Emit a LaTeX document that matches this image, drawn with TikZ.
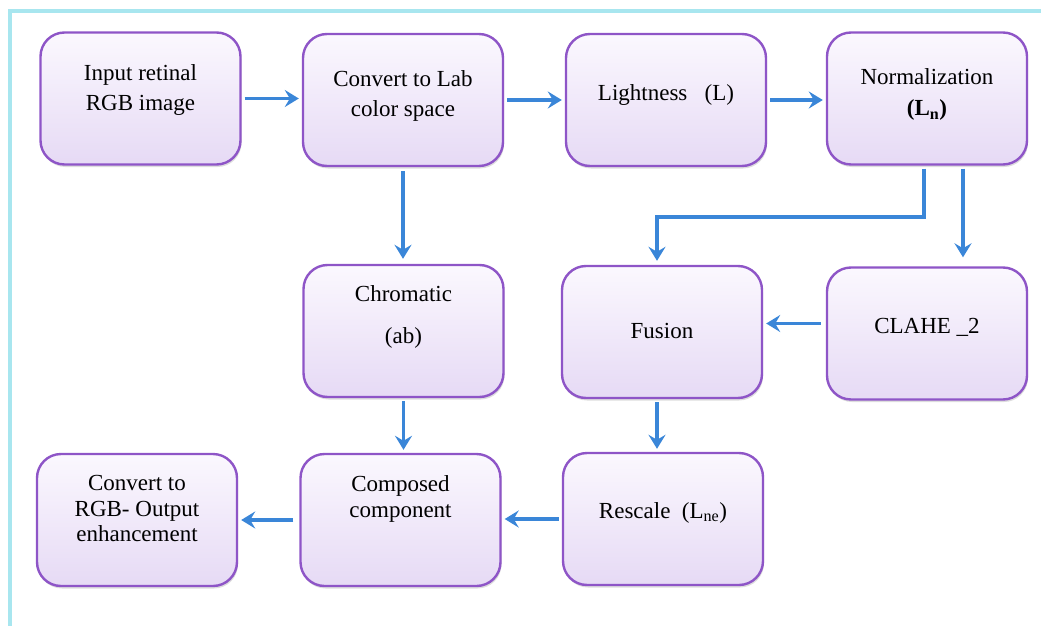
\documentclass[tikz,border=0pt]{standalone}
\usepackage{fontspec}
\setmainfont{Liberation Serif}
\usetikzlibrary{arrows.meta,shadows,calc}

\definecolor{frameline}{HTML}{A8E6EF}
\definecolor{boxedge}{HTML}{8E55C7}
\definecolor{boxtop}{HTML}{FBF8FE}
\definecolor{boxbottom}{HTML}{E6DAF5}
\definecolor{flow}{HTML}{3A86D8}

\tikzset{
  stepbox/.style={
    rounded corners=24pt, minimum width=200pt, minimum height=132pt,
    draw=boxedge, line width=2.4pt, top color=boxtop, bottom color=boxbottom,
    drop shadow={shadow xshift=1pt, shadow yshift=-2.5pt, opacity=0.22, fill=black!60}
  },
  caption/.style={align=center, inner sep=0pt, text=black},
  arr/.style={draw=flow, line width=3.6pt,
    -{Stealth[length=14pt, width=17pt, inset=5pt]},
    shorten >=3pt, shorten <=3pt}
}

\begin{document}
\begin{tikzpicture}[x=1pt, y=-1pt]
  \useasboundingbox (0,0) rectangle (1041,626);

  % outer frame: top and left edges only
  \draw[frameline, line width=4.5pt] (10,626) -- (10,11) -- (1041,11);

  % process boxes
  \node[stepbox] (input)  at (140.5,98.5) {};
  \node[stepbox] (lab)    at (403,100)    {};
  \node[stepbox] (light)  at (666,100)    {};
  \node[stepbox] (norm)   at (927,98.5)   {};
  \node[stepbox] (chroma) at (403.5,331)  {};
  \node[stepbox] (fusion) at (662,332)    {};
  \node[stepbox] (clahe)  at (927,333.5)  {};
  \node[stepbox] (rgb)    at (137,520)    {};
  \node[stepbox] (comp)   at (400.5,520)  {};
  \node[stepbox] (resc)   at (663,519)    {};

  % box captions
  \node[caption, font=\fontsize{23}{30}\selectfont] (tinput) at (140.5,90.5)
    {Input retinal\\RGB image};
  \node[caption, font=\fontsize{23}{30}\selectfont] (tlab) at (403,95.5)
    {Convert to Lab\\color space};
  \node[caption, font=\fontsize{23}{26}\selectfont] (tlight) at (666,95.5)
    {Lightness\ \ \ (L)};
  \node[caption, font=\fontsize{23}{31}\selectfont] (tnorm) at (927,94.5)
    {Normalization\\\textbf{(L\textsubscript{n})}};
  \node[caption, font=\fontsize{23}{42}\selectfont] (tchroma) at (403.5,316.5)
    {Chromatic\\(ab)};
  \node[caption, font=\fontsize{23}{26}\selectfont] (tfusion) at (662,331)
    {Fusion};
  \node[caption, font=\fontsize{23}{26}\selectfont] (tclahe) at (927,327)
    {CLAHE \_2};
  \node[caption, font=\fontsize{23}{25.5}\selectfont] (trgb) at (137,508.5)
    {Convert to\\RGB- Output\\enhancement};
  \node[caption, font=\fontsize{23}{26}\selectfont] (tcomp) at (400.5,498.5)
    {Composed\\component};
  \node[caption, font=\fontsize{23}{26}\selectfont] (tresc) at (663,512.5)
    {Rescale\ \ (L\textsubscript{ne})};

  % data flow
  \draw[arr] (input.east) -- (input.east -| lab.west);
  \draw[arr] (lab.east) -- (lab.east -| light.west);
  \draw[arr] (light.east) -- (light.east -| norm.west);
  \draw[arr, shorten <=4pt, shorten >=5pt] (lab.south) -- (lab.south |- chroma.north);
  \draw[arr, shorten >=4pt] ([xshift=-3pt]norm.south) -- ++(0,51)
    -| ([xshift=-5pt]fusion.north);
  \draw[arr, shorten >=9pt] ([xshift=36pt]norm.south) -- ([xshift=36pt]norm.south |- clahe.north);
  \draw[arr, shorten <=5pt] ([yshift=10pt]clahe.west) -- ([yshift=10pt]clahe.west -| fusion.east);
  \draw[arr] ([xshift=-5pt]fusion.south) -- ([xshift=-5pt]fusion.south |- resc.north);
  \draw[arr] (chroma.south) -- (chroma.south |- comp.north);
  \draw[arr] (resc.west) -- (resc.west -| comp.east);
  \draw[arr, shorten <=6pt] (comp.west) -- (comp.west -| rgb.east);
\end{tikzpicture}
\end{document}
